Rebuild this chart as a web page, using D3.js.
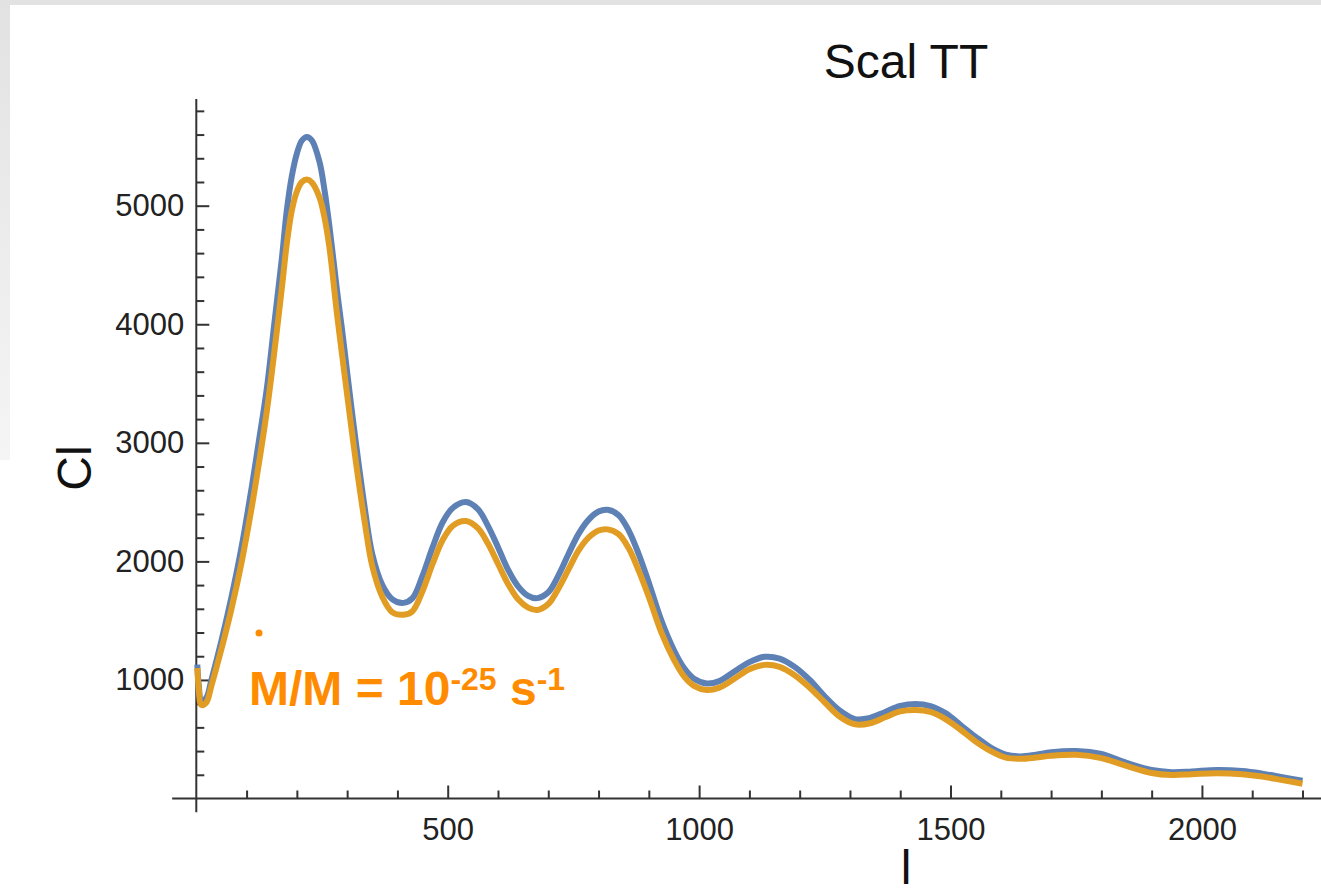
<!DOCTYPE html>
<html>
<head>
<meta charset="utf-8">
<script src="https://cdn.jsdelivr.net/npm/d3@7"></script>
<style>
  body { margin: 0; background: #fff; }
  svg { display: block; font-family: "Liberation Sans", Arial, sans-serif; }
</style>
</head>
<body>
<script>
// multipole values shared by both curves
const ells = [2, 5, 10, 20, 30, 50, 70, 90, 110, 125, 140, 155, 170, 180, 190, 200, 210, 220, 230, 245,
  255, 265, 280, 290, 305, 318, 335, 350, 370, 390, 412, 430, 450, 470, 490, 510, 536, 560, 580, 600,
  620, 640, 660, 678, 700, 720, 740, 760, 780, 800, 818, 840, 860, 880, 900, 925, 950, 970, 990, 1015,
  1040, 1070, 1100, 1130, 1160, 1190, 1220, 1250, 1280, 1310, 1340, 1370, 1400, 1430, 1460, 1490, 1520, 1550, 1580, 1610,
  1640, 1670, 1700, 1750, 1800, 1850, 1900, 1940, 1980, 2030, 2080, 2120, 2160, 2200];

const clBlue = [1130, 950, 820, 850, 1000, 1330, 1700, 2120, 2620, 3030, 3450, 4000, 4550, 4960, 5250, 5440, 5550, 5580, 5550, 5370,
  5130, 4820, 4280, 3950, 3420, 2980, 2450, 2060, 1800, 1680, 1650, 1690, 1880, 2120, 2330, 2450, 2500, 2440, 2300, 2120,
  1930, 1790, 1710, 1690, 1740, 1880, 2060, 2230, 2350, 2420, 2435, 2390, 2260, 2060, 1820, 1500, 1250, 1100, 1010, 970,
  990, 1070, 1150, 1195, 1180, 1110, 1000, 860, 740, 670, 680, 730, 780, 797, 780, 720, 620, 520, 430, 370,
  355, 370, 390, 400, 375, 300, 240, 222, 228, 240, 232, 210, 180, 150];

const clOrange = [1100, 920, 790, 810, 950, 1260, 1600, 1990, 2450, 2840, 3260, 3760, 4300, 4680, 4960, 5120, 5200, 5220, 5195, 5070,
  4900, 4640, 4080, 3740, 3240, 2820, 2330, 1960, 1700, 1570, 1550, 1580, 1750, 1980, 2180, 2300, 2340, 2280, 2150, 1980,
  1810, 1680, 1610, 1590, 1640, 1770, 1930, 2090, 2200, 2260, 2270, 2230, 2110, 1920, 1700, 1400, 1170, 1030, 950, 915,
  935, 1010, 1090, 1127, 1110, 1040, 935, 810, 690, 626, 635, 685, 735, 747, 730, 670, 580, 480, 400, 345,
  335, 345, 360, 368, 340, 275, 215, 198, 205, 213, 205, 185, 155, 125];

const xMajor = [500, 1000, 1500, 2000];
const yMajor = [1000, 2000, 3000, 4000, 5000];

const W = 1321, H = 895;
const svg = d3.select('body').append('svg').attr('width', W).attr('height', H);

// grey frame of the screenshot
const defs = svg.append('defs');
const grad = defs.append('linearGradient').attr('id', 'leftfade')
  .attr('x1', 0).attr('y1', 0).attr('x2', 0).attr('y2', 1);
grad.append('stop').attr('offset', '0%').attr('stop-color', '#e2e2e2');
grad.append('stop').attr('offset', '100%').attr('stop-color', '#f5f5f5');
svg.append('rect').attr('width', W).attr('height', H).attr('fill', '#fff');
svg.append('rect').attr('x', 0).attr('y', 0).attr('width', W).attr('height', 5).attr('fill', '#e2e2e2');
svg.append('rect').attr('x', 0).attr('y', 0).attr('width', 10).attr('height', 460).attr('fill', 'url(#leftfade)');

const x = d3.scaleLinear().domain([0, 2200]).range([196.3, 1302.5]);
const y = d3.scaleLinear().domain([0, 5000]).range([798.5, 205.7]);

const axisColor = '#333';
const tickFont = 31;

// y axis
const yMinor = d3.range(200, 5801, 200).filter(v => v % 1000 !== 0);
const gy = svg.append('g').attr('transform', 'translate(' + x(0) + ',0)');
gy.call(d3.axisLeft(y).tickValues(yMajor).tickSizeInner(-13).tickSizeOuter(0).tickPadding(12).tickFormat(d3.format('d')));
gy.append('g').call(d3.axisLeft(y).tickValues(yMinor).tickSizeInner(-8).tickSizeOuter(0).tickFormat(''));
gy.selectAll('.domain').remove();
gy.selectAll('line').attr('stroke', axisColor).attr('stroke-width', 2);
gy.selectAll('text').attr('font-size', tickFont).attr('fill', '#222').attr('font-family', '"Liberation Sans", Arial, sans-serif');
gy.append('line').attr('x1', 0).attr('x2', 0).attr('y1', y(5900)).attr('y2', y(-115))
  .attr('stroke', axisColor).attr('stroke-width', 2);

// x axis
const xMinor = d3.range(100, 2201, 100).filter(v => v % 500 !== 0);
const gx = svg.append('g').attr('transform', 'translate(0,' + y(0) + ')');
gx.call(d3.axisBottom(x).tickValues(xMajor).tickSizeInner(-13).tickSizeOuter(0).tickPadding(19).tickFormat(d3.format('d')));
gx.append('g').call(d3.axisBottom(x).tickValues(xMinor).tickSizeInner(-8).tickSizeOuter(0).tickFormat(''));
gx.selectAll('.domain').remove();
gx.selectAll('line').attr('stroke', axisColor).attr('stroke-width', 2);
gx.selectAll('text').attr('font-size', tickFont).attr('fill', '#222').attr('font-family', '"Liberation Sans", Arial, sans-serif');
gx.append('line').attr('x1', x(-48)).attr('x2', x(2240)).attr('y1', 0).attr('y2', 0)
  .attr('stroke', axisColor).attr('stroke-width', 2);

// curves
const line = d3.line().x(d => x(d[0])).y(d => y(d[1])).curve(d3.curveCatmullRom.alpha(0.5));
svg.append('path').datum(ells.map((l, i) => [l, clBlue[i]]))
  .attr('fill', 'none').attr('stroke', '#5e81b5').attr('stroke-width', 6).attr('d', line);
svg.append('path').datum(ells.map((l, i) => [l, clOrange[i]]))
  .attr('fill', 'none').attr('stroke', '#e19c24').attr('stroke-width', 6).attr('d', line);

// titles
svg.append('text').attr('x', 906).attr('y', 78).attr('text-anchor', 'middle')
  .attr('font-size', 48).attr('fill', '#111').text('Scal TT');
svg.append('text').attr('transform', 'translate(91,468) rotate(-90)').attr('text-anchor', 'middle')
  .attr('font-size', 48).attr('fill', '#111').text('Cl');
svg.append('text').attr('x', 906).attr('y', 884).attr('text-anchor', 'middle')
  .attr('font-size', 48).attr('fill', '#111').text('l');

// annotation
const orange = '#ff8c00';
svg.append('circle').attr('cx', 259).attr('cy', 633).attr('r', 3.5).attr('fill', orange);
const ann = svg.append('text').attr('x', 249).attr('y', 705).attr('font-weight', 'bold')
  .attr('font-size', 48).attr('fill', orange);
ann.append('tspan').text('M/M = 10');
ann.append('tspan').attr('font-size', 32).attr('dy', -15).text('-25');
ann.append('tspan').attr('dy', 15).text(' s');
ann.append('tspan').attr('font-size', 32).attr('dy', -15).text('-1');
</script>
</body>
</html>
